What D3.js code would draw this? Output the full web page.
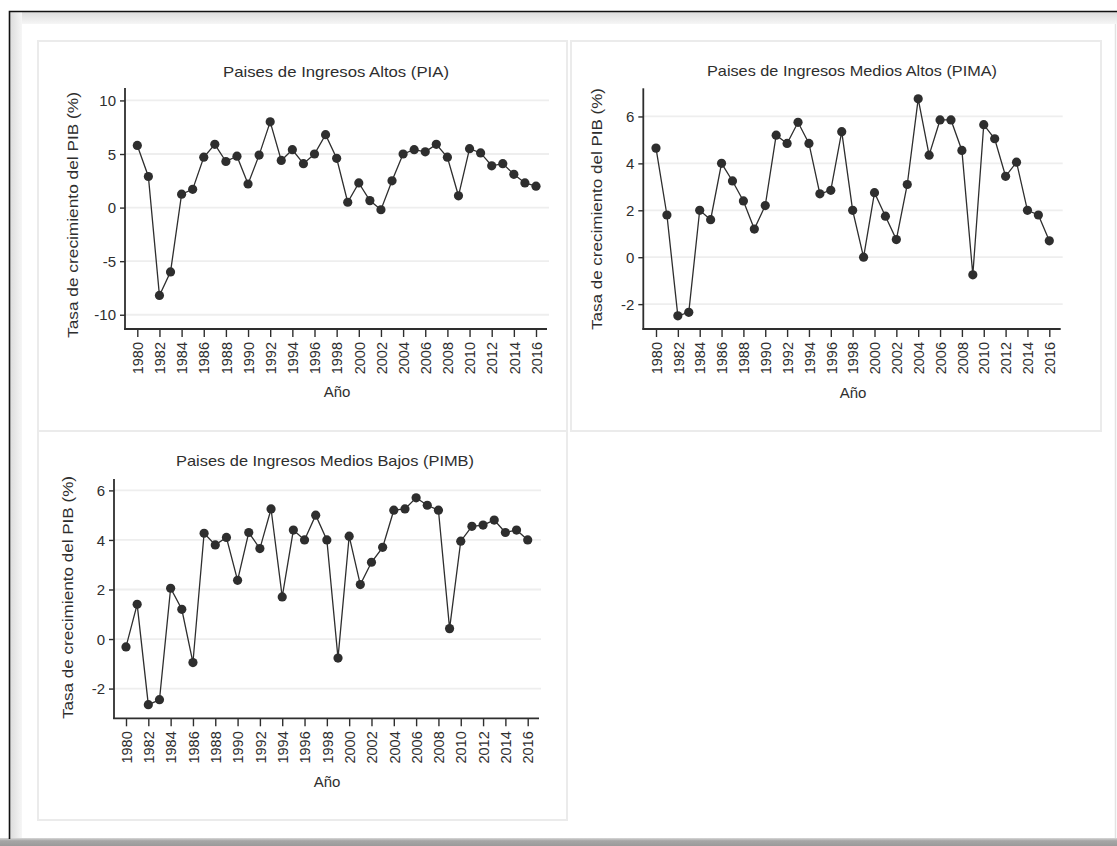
<!DOCTYPE html>
<html lang="es">
<head>
<meta charset="utf-8">
<title>Tasa de crecimiento del PIB por grupo de ingresos</title>
<script src="https://cdn.jsdelivr.net/npm/d3@7"></script>
<style>
  html, body { margin: 0; padding: 0; background: #ffffff; }
  svg { display: block; }
  svg text { font-family: "Liberation Sans", Arial, sans-serif; }
</style>
</head>
<body>
<svg id="chart" width="1117" height="846"></svg>
<script>
// Años (eje X) y etiquetas de marcas
const years = d3.range(1980, 2017);
const yearTicks = d3.range(1980, 2017, 2);

// Tasa de crecimiento del PIB (%), 1980–2016
const piaValues = [
  5.8, 2.9, -8.2, -6.0, 1.25, 1.7, 4.7, 5.9, 4.3, 4.8,
  2.2, 4.9, 8.0, 4.4, 5.4, 4.1, 5.0, 6.8, 4.6, 0.5,
  2.3, 0.65, -0.2, 2.5, 5.0, 5.4, 5.2, 5.9, 4.7, 1.1,
  5.5, 5.1, 3.9, 4.1, 3.1, 2.3, 2.0
];
const pimaValues = [
  4.65, 1.8, -2.5, -2.35, 2.0, 1.6, 4.0, 3.25, 2.4, 1.2,
  2.2, 5.2, 4.85, 5.75, 4.85, 2.7, 2.85, 5.35, 2.0, 0.0,
  2.75, 1.75, 0.75, 3.1, 6.75, 4.35, 5.85, 5.85, 4.55, -0.75,
  5.65, 5.05, 3.45, 4.05, 2.0, 1.8, 0.7
];
const pimbValues = [
  -0.32, 1.4, -2.65, -2.45, 2.05, 1.2, -0.95, 4.27, 3.8, 4.1,
  2.37, 4.3, 3.65, 5.25, 1.7, 4.4, 4.0, 5.0, 4.0, -0.77,
  4.15, 2.2, 3.1, 3.7, 5.2, 5.25, 5.7, 5.4, 5.2, 0.42,
  3.95, 4.55, 4.6, 4.8, 4.3, 4.4, 4.0
];

// Títulos y marcas del eje Y de cada panel
const panelTitles = [
  "Paises de Ingresos Altos (PIA)",
  "Paises de Ingresos Medios Altos (PIMA)",
  "Paises de Ingresos Medios Bajos (PIMB)"
];
const piaTicks = [-10, -5, 0, 5, 10];
const pimaTicks = [-2, 0, 2, 4, 6];
const pimbTicks = [-2, 0, 2, 4, 6];
const yTitle = "Tasa de crecimiento del PIB (%)";
const xTitle = "Año";

const FONT = "'Liberation Sans', Arial, sans-serif";
const svg = d3.select("#chart");
const ink = "#2e2e2e";

// ---- marco exterior de la ventana ----
const defs = svg.append("defs");
const gTop = defs.append("linearGradient").attr("id", "bandTop").attr("x1", 0).attr("y1", 0).attr("x2", 0).attr("y2", 1);
gTop.append("stop").attr("offset", "0%").attr("stop-color", "#dcdcdc");
gTop.append("stop").attr("offset", "100%").attr("stop-color", "#f6f6f6");
const gLeft = defs.append("linearGradient").attr("id", "bandLeft").attr("x1", 0).attr("y1", 0).attr("x2", 1).attr("y2", 0);
gLeft.append("stop").attr("offset", "0%").attr("stop-color", "#dcdcdc");
gLeft.append("stop").attr("offset", "100%").attr("stop-color", "#f6f6f6");
const gBot = defs.append("linearGradient").attr("id", "bandBot").attr("x1", 0).attr("y1", 0).attr("x2", 0).attr("y2", 1);
gBot.append("stop").attr("offset", "0%").attr("stop-color", "#d8d8d8");
gBot.append("stop").attr("offset", "35%").attr("stop-color", "#a6a6a6");
gBot.append("stop").attr("offset", "100%").attr("stop-color", "#9a9a9a");

svg.append("rect").attr("x", 10).attr("y", 12).attr("width", 1107).attr("height", 12).attr("fill", "url(#bandTop)");
svg.append("rect").attr("x", 10).attr("y", 12).attr("width", 12).attr("height", 826).attr("fill", "url(#bandLeft)");
svg.append("rect").attr("x", 0).attr("y", 838).attr("width", 1117).attr("height", 8).attr("fill", "url(#bandBot)");
svg.append("line").attr("x1", 1115.5).attr("x2", 1115.5).attr("y1", 24).attr("y2", 838).attr("stroke", "#e2e2e2").attr("stroke-width", 1.5);
svg.append("path").attr("d", "M9.5,839 V11.5 H1117").attr("fill", "none").attr("stroke", "#111").attr("stroke-width", 1.6);

// ---- paneles ----
const panels = [
  { title: panelTitles[0], values: piaValues, ticks: piaTicks,
    box: [38, 41, 529, 390],
    x0: 137.3, x1: 536, axisX: 125, axisEnd: 547,
    yTop: 88, yBot: 329, dom: [-11.33, 11.16],
    titleX: 336, titleY: 77, titleW: 226,
    yTitleX: 73, yTitleY: 215, yTitleW: 246, xTitleX: 337, xTitleY: 397 },
  { title: panelTitles[1], values: pimaValues, ticks: pimaTicks,
    box: [571, 41, 530, 390],
    x0: 656, x1: 1049.3, axisX: 643.3, axisEnd: 1060.7,
    yTop: 88.3, yBot: 329, dom: [-3.06, 7.2],
    titleX: 852, titleY: 76, titleW: 290,
    yTitleX: 597, yTitleY: 209, yTitleW: 242, xTitleX: 853, xTitleY: 398 },
  { title: panelTitles[2], values: pimbValues, ticks: pimbTicks,
    box: [38, 431, 529, 389],
    x0: 126, x1: 527.7, axisX: 114, axisEnd: 539,
    yTop: 479, yBot: 718.3, dom: [-3.2, 6.46],
    titleX: 325, titleY: 466, titleW: 298,
    yTitleX: 68, yTitleY: 597.5, yTitleW: 243, xTitleX: 327, xTitleY: 787 }
];

panels.forEach(p => {
  const g = svg.append("g").attr("font-family", FONT);

  g.append("rect")
    .attr("x", p.box[0]).attr("y", p.box[1])
    .attr("width", p.box[2]).attr("height", p.box[3])
    .attr("fill", "#ffffff").attr("stroke", "#ebebeb").attr("stroke-width", 2);

  const x = d3.scaleLinear().domain([1980, 2016]).range([p.x0, p.x1]);
  const y = d3.scaleLinear().domain(p.dom).range([p.yBot, p.yTop]);

  // líneas de cuadrícula
  g.append("g").selectAll("line").data(p.ticks).join("line")
    .attr("x1", p.axisX).attr("x2", p.axisEnd + 2)
    .attr("y1", d => y(d)).attr("y2", d => y(d))
    .attr("stroke", "#eeeeee").attr("stroke-width", 1.8);

  // eje Y
  const yAxis = d3.axisLeft(y).tickValues(p.ticks).tickSize(5).tickPadding(4).tickFormat(d => String(d));
  const ya = g.append("g").attr("transform", `translate(${p.axisX},0)`).call(yAxis)
    .attr("font-family", FONT);
  ya.select(".domain").remove();
  ya.append("line").attr("x1", 0).attr("x2", 0).attr("y1", p.yTop).attr("y2", p.yBot + 0.8)
    .attr("stroke", ink).attr("stroke-width", 1.8);
  ya.selectAll(".tick line").attr("stroke", ink).attr("stroke-width", 1.4);
  ya.selectAll(".tick text").attr("fill", ink).attr("font-size", "15px").attr("dy", "0.35em");

  // eje X
  const xAxis = d3.axisBottom(x).tickValues(yearTicks).tickSize(8).tickFormat(d => String(d));
  const xa = g.append("g").attr("transform", `translate(0,${p.yBot})`).call(xAxis)
    .attr("font-family", FONT);
  xa.select(".domain").remove();
  xa.append("line").attr("x1", p.axisX - 0.9).attr("x2", p.axisEnd).attr("y1", 0).attr("y2", 0)
    .attr("stroke", ink).attr("stroke-width", 1.8);
  xa.selectAll(".tick line").attr("stroke", ink).attr("stroke-width", 1.4);
  xa.selectAll(".tick text")
    .attr("fill", ink).attr("font-size", "14.5px")
    .attr("text-anchor", "end")
    .attr("x", 0).attr("y", 0).attr("dy", "0.36em")
    .attr("transform", "translate(0,13) rotate(-90)");

  // serie
  const series = years.map((yr, i) => ({ yr, v: p.values[i] }));
  g.append("path").datum(series)
    .attr("fill", "none").attr("stroke", ink).attr("stroke-width", 1.3)
    .attr("d", d3.line().x(d => x(d.yr)).y(d => y(d.v)));
  g.append("g").selectAll("circle").data(series).join("circle")
    .attr("cx", d => x(d.yr)).attr("cy", d => y(d.v)).attr("r", 4.6)
    .attr("fill", ink);

  // textos
  g.append("text").attr("x", p.titleX).attr("y", p.titleY)
    .attr("text-anchor", "middle").attr("font-size", "15px").attr("fill", ink)
    .attr("textLength", p.titleW).attr("lengthAdjust", "spacingAndGlyphs")
    .text(p.title);
  g.append("text")
    .attr("transform", `translate(${p.yTitleX},${p.yTitleY}) rotate(-90)`)
    .attr("text-anchor", "middle").attr("dy", "0.35em")
    .attr("font-size", "15px").attr("fill", ink)
    .attr("textLength", p.yTitleW).attr("lengthAdjust", "spacingAndGlyphs")
    .text(yTitle);
  g.append("text").attr("x", p.xTitleX).attr("y", p.xTitleY)
    .attr("text-anchor", "middle").attr("font-size", "15px").attr("fill", ink)
    .text(xTitle);
});
</script>
</body>
</html>
